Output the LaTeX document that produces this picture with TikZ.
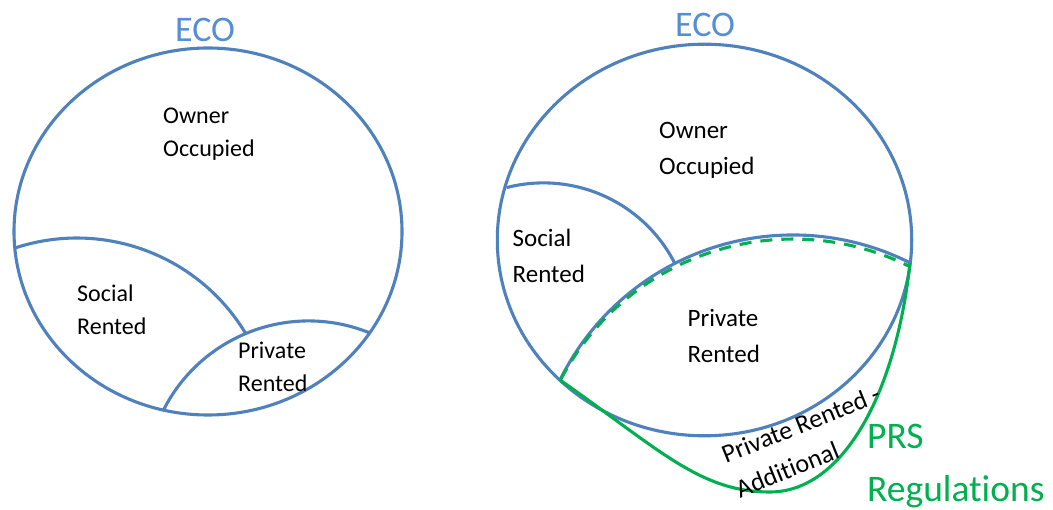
\documentclass[tikz,border=0pt]{standalone}
\usepackage{fontspec}
\setmainfont{Carlito}[Ligatures=NoCommon]
\definecolor{ecoblue}{RGB}{79,129,189}
\definecolor{ecotext}{RGB}{85,142,213}
\definecolor{prsgreen}{RGB}{0,176,80}
\newcommand{\twoln}[2]{\vtop{\hbox{#1}\hbox{#2}}}
\begin{document}
\begin{tikzpicture}[x=1pt,y=1pt,
  bl/.style={draw=ecoblue, line width=3.1pt},
  gr/.style={draw=prsgreen, line width=3.1pt},
  lbl/.style={anchor=base west, inner sep=0pt, text=black},
  lblL/.style={lbl, font=\fontsize{24}{33.3}\selectfont},
  lblR/.style={lbl, font=\fontsize{25}{36}\selectfont},
  lblA/.style={lbl, font=\fontsize{26}{37}\selectfont},
  eco/.style={anchor=base west, inner sep=0pt, text=ecotext, font=\fontsize{36}{40}\selectfont},
  prs/.style={anchor=base west, inner sep=0pt, text=prsgreen, font=\fontsize{37.5}{53}\selectfont}]
\useasboundingbox (0,0) rectangle (1053,-510);
% left diagram
\draw[bl] (208,-231.5) ellipse [x radius=194, y radius=183.5];
\coordinate (sL) at (15,-248);
\coordinate (pL) at (163,-411);
\draw[bl] (sL) arc[start angle=108.3, end angle=31, radius=197];
\draw[bl] (pL) arc[start angle=153.5, end angle=67.8, radius=162.6];
\node[eco] (ecoL) at (175,-41.7) {ECO};
\node[lblL] (ownL) at (163,-123.3) {\twoln{Owner}{Occupied}};
\node[lblL] (socL) at (77,-301.7) {\twoln{Social}{Rented}};
\node[lblL] (privL) at (238,-358.3) {\twoln{Private}{Rented}};
% right diagram
\draw[bl] (704.5,-240) ellipse [x radius=207.2, y radius=195.8];
\coordinate (sR) at (506.5,-187.6);
\coordinate (lensL) at (560,-380);
\coordinate (lensR) at (910,-263);
\coordinate (dashL) at (561,-379);
\draw[bl] (sR) arc[start angle=104.5, end angle=26.9, radius=147.5];
\draw[bl] (lensL) arc[start angle=153.8, end angle=63.2, radius=259.7];
\draw[gr, dash pattern=on 12pt off 9pt] (dashL) arc[start angle=152.2, end angle=63.9, radius=262.2];
\draw[gr] (lensL) .. controls (660,-450) and (700,-492) .. (770,-492) .. controls (840,-492) and (895,-400) .. (lensR);
\node[eco] (ecoR) at (675,-36.7) {ECO};
\node[lblR] (ownR) at (659,-138.3) {\twoln{Owner}{Occupied}};
\node[lblR] (socR) at (512.5,-246.7) {\twoln{Social}{Rented}};
\node[lblR] (privR) at (687.5,-326.7) {\twoln{Private}{Rented}};
\node[lblA, rotate=22] (addR) at (726,-464) {\twoln{Private Rented -}{Additional}};
\node[prs] (prsR) at (867,-449) {\twoln{PRS}{Regulations}};
\end{tikzpicture}
\end{document}
